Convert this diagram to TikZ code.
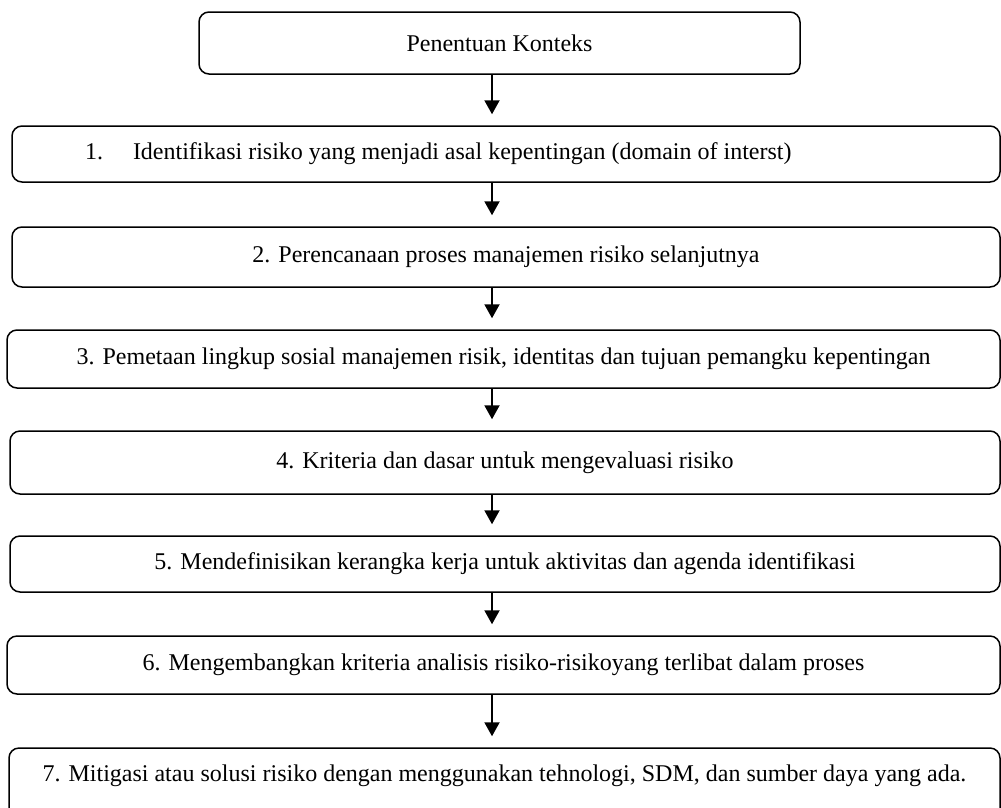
\documentclass[tikz,border=0pt]{standalone}
\usepackage{fontspec}
\setmainfont{Liberation Serif}
\usetikzlibrary{calc,arrows.meta}

\begin{document}
\begin{tikzpicture}[x=1pt,y=-1pt,line width=1.5pt,
  boite/.style={draw,rounded corners=10pt,inner sep=0pt,font=\fontsize{24}{28}\selectfont},
  fleche/.style={line width=2pt,-{Triangle[width=15pt,length=14pt]},shorten >=11pt}]
\useasboundingbox (0,0) rectangle (1001,807);

% boites (centre, largeur, hauteur)
\node[boite,minimum width=601pt,minimum height=62pt] (b0) at (499.5,43) {Penentuan Konteks};
\node[boite,minimum width=988pt,minimum height=56pt] (b1) at (506,154)
  {\makebox[842pt][l]{1.\hspace*{30pt}Identifikasi risiko yang menjadi asal kepentingan (domain of interst)}};
\node[boite,minimum width=988pt,minimum height=60pt] (b2) at (506,257) {2. Perencanaan proses manajemen risiko selanjutnya};
\node[boite,minimum width=993pt,minimum height=58pt] (b3) at (503.5,359) {3. Pemetaan lingkup sosial manajemen risik, identitas dan tujuan pemangku kepentingan};
\node[boite,minimum width=990pt,minimum height=63pt] (b4) at (505,462.5) {4. Kriteria dan dasar untuk mengevaluasi risiko};
\node[boite,minimum width=990pt,minimum height=56pt] (b5) at (505,564) {5. Mendefinisikan kerangka kerja untuk aktivitas dan agenda identifikasi};
\node[boite,minimum width=993pt,minimum height=58pt] (b6) at (503.5,665) {6. Mengembangkan kriteria analisis risiko-risikoyang terlibat dalam proses};
% la derniere boite sort du cadre en bas
\node[boite,minimum width=991pt,text height=33pt,text depth=49pt,anchor=base] (b7) at (504.5,781) {7. Mitigasi atau solusi risiko dengan menggunakan tehnologi, SDM, dan sumber daya yang ada.};

% fleches verticales
\coordinate (f) at (492,0);
\foreach \i [evaluate=\i as \j using int(\i+1)] in {0,...,6}
{\draw[fleche] (b\i.south -| f) -- (b\j.north -| f);}

\end{tikzpicture}
\end{document}
